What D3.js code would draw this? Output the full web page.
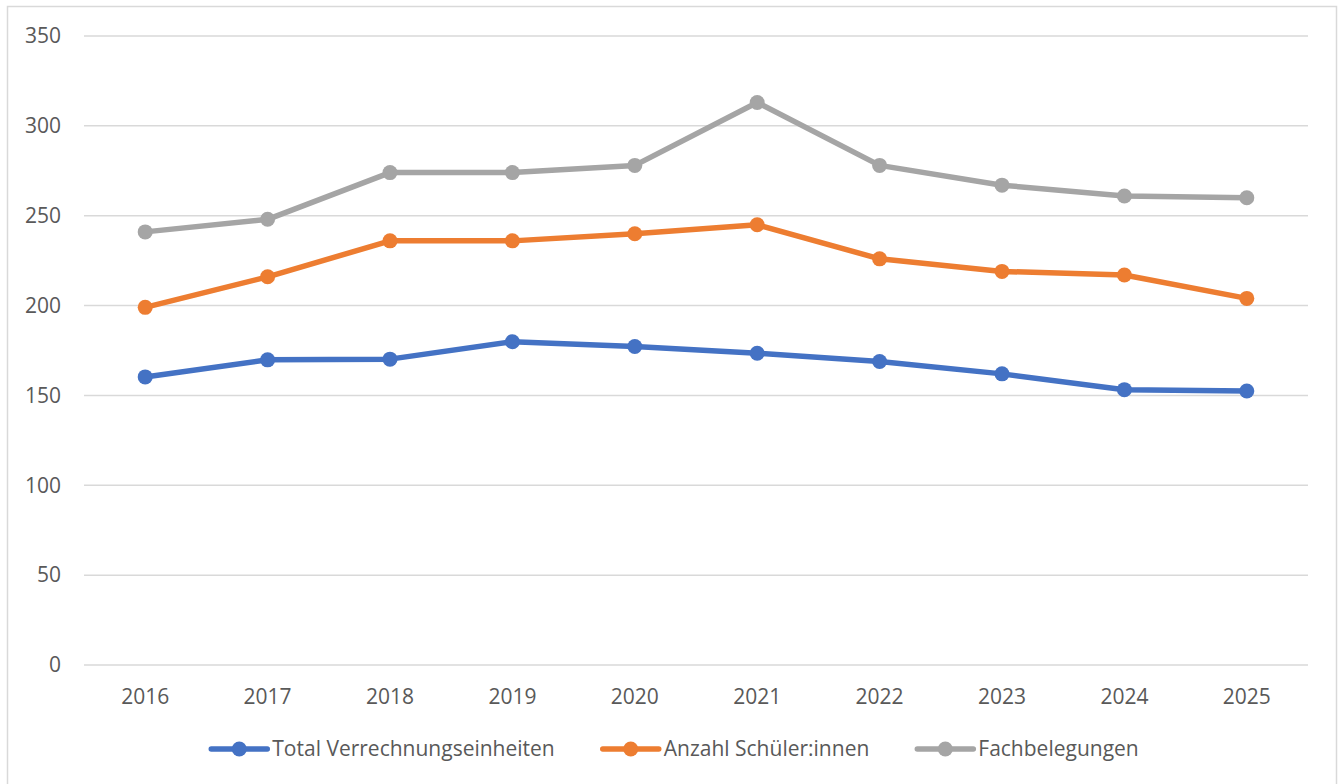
<!DOCTYPE html>
<html>
<head>
<meta charset="utf-8">
<script src="https://cdn.jsdelivr.net/npm/d3@7"></script>
<style>
  body { margin: 0; background: #fff; }
  svg text { font-family: "Open Sans", "Noto Sans", sans-serif; fill: #595959; }
  .grid line { stroke: #d9d9d9; stroke-width: 1.5; }
</style>
</head>
<body>
<div id="chart"></div>
<script>
// Values.
const years = ['2016', '2017', '2018', '2019', '2020', '2021', '2022', '2023', '2024', '2025'];
const verrechnungseinheiten = [160.3, 169.8, 170.2, 179.9, 177.2, 173.5, 168.9, 162, 153.2, 152.5];
const schuelerInnen = [199, 216, 236, 236, 240, 245, 226, 219, 217, 204];
const fachbelegungen = [241, 248, 274, 274, 278, 313, 278, 267, 261, 260];
const yTicks = [0, 50, 100, 150, 200, 250, 300, 350];

const seriesNames = ['Total Verrechnungseinheiten', 'Anzahl Schüler:innen', 'Fachbelegungen'];
const seriesValues = [verrechnungseinheiten, schuelerInnen, fachbelegungen];
const seriesColors = ['#4472c4', '#ed7d31', '#a5a5a5'];

const W = 1343, H = 784;
const plot = { left: 84, right: 1308, top: 36, bottom: 665 };
const FONT = '21px';

const svg = d3.select('#chart').append('svg').attr('width', W).attr('height', H);

// chart area border (runs off the bottom edge like in the source)
svg.append('rect')
  .attr('x', 7.5).attr('y', 6.5)
  .attr('width', 1329).attr('height', 800)
  .attr('fill', 'none').attr('stroke', '#d9d9d9').attr('stroke-width', 1.5);

const x = d3.scaleBand().domain(years).range([plot.left, plot.right]);
const y = d3.scaleLinear().domain([0, 350]).range([plot.bottom, plot.top]);

// horizontal gridlines
svg.append('g').attr('class', 'grid')
  .selectAll('line').data(yTicks).join('line')
  .attr('x1', plot.left).attr('x2', plot.right)
  .attr('y1', (d) => y(d)).attr('y2', (d) => y(d));

// y axis labels
const yAxis = svg.append('g')
  .attr('transform', `translate(${plot.left},0)`)
  .call(d3.axisLeft(y).tickValues(yTicks).tickSize(0).tickPadding(23));
yAxis.select('.domain').remove();
yAxis.selectAll('text').style('font-size', FONT).attr('fill', '#595959');

// x axis labels
const xAxis = svg.append('g')
  .attr('transform', `translate(0,${plot.bottom})`)
  .call(d3.axisBottom(x).tickSize(0).tickPadding(24));
xAxis.select('.domain').remove();
xAxis.selectAll('text').style('font-size', FONT).attr('fill', '#595959');

const line = d3.line()
  .x((d, i) => x(years[i]) + x.bandwidth() / 2)
  .y((d) => y(d));

seriesValues.forEach((vals, s) => {
  const g = svg.append('g');
  g.append('path')
    .datum(vals)
    .attr('d', line)
    .attr('fill', 'none')
    .attr('stroke', seriesColors[s])
    .attr('stroke-width', 5.5)
    .attr('stroke-linejoin', 'round');
  g.selectAll('circle').data(vals).join('circle')
    .attr('cx', (d, i) => x(years[i]) + x.bandwidth() / 2)
    .attr('cy', (d) => y(d))
    .attr('r', 7.5)
    .attr('fill', seriesColors[s]);
});

// legend, centred under the chart area
const legend = svg.append('g');
const legendY = 749;
let lx = 0;
seriesNames.forEach((name, s) => {
  const item = legend.append('g').attr('transform', `translate(${lx},0)`);
  item.append('line')
    .attr('x1', 0).attr('x2', 56)
    .attr('y1', legendY).attr('y2', legendY)
    .attr('stroke', seriesColors[s]).attr('stroke-width', 5.5)
    .attr('stroke-linecap', 'round');
  item.append('circle')
    .attr('cx', 28).attr('cy', legendY).attr('r', 7.5)
    .attr('fill', seriesColors[s]);
  const t = item.append('text')
    .attr('x', 61).attr('y', legendY)
    .attr('dy', '0.35em')
    .style('font-size', FONT)
    .text(name);
  lx += 61 + t.node().getComputedTextLength() + 48;
});
const legendWidth = lx - 48;
legend.attr('transform', `translate(${675 - legendWidth / 2},0)`);
</script>
</body>
</html>
